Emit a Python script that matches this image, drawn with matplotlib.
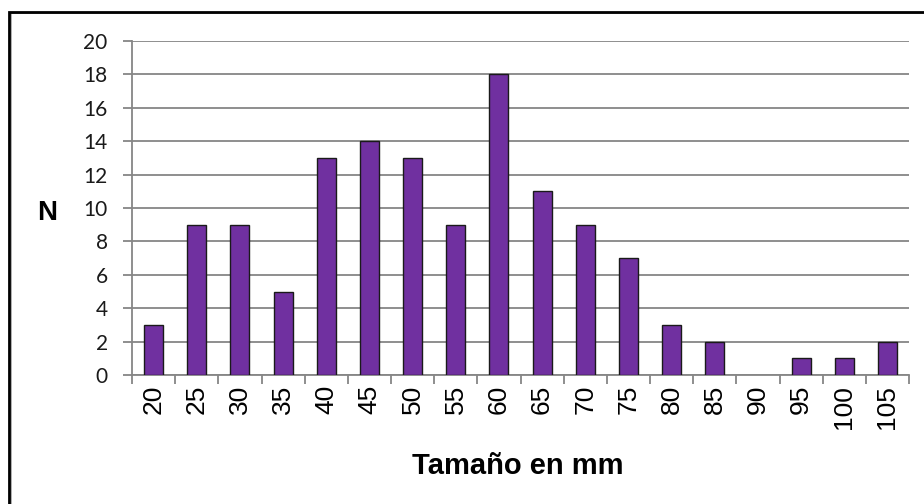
import matplotlib.pyplot as plt
from matplotlib.patches import Rectangle

sizes = ['20', '25', '30', '35', '40', '45', '50', '55', '60',
         '65', '70', '75', '80', '85', '90', '95', '100', '105']
counts = [3, 9, 9, 5, 13, 14, 13, 9, 18, 11, 9, 7, 3, 2, 0, 1, 1, 2]
y_ticks = [0, 2, 4, 6, 8, 10, 12, 14, 16, 18, 20]

grid_col = '#868686'

fig = plt.figure(figsize=(9.24, 5.04), dpi=100)
ax = fig.add_axes([132/924, 1 - 375/504, (909 - 132)/924, (375 - 41)/504])

pos = list(range(len(sizes)))
# no outline for empty classes (Excel draws nothing there)
edge_w = [1 if c > 0 else 0 for c in counts]
ax.bar(pos, counts, width=0.44, color='#7030A0', edgecolor='#1a1a1a', linewidth=edge_w, zorder=3)

ax.set_xlim(-0.5, len(sizes) - 0.5)
ax.set_ylim(0, 20)
ax.set_yticks(y_ticks)
ax.set_yticklabels([str(v) for v in y_ticks], fontfamily='Lato', fontsize=15)
ax.yaxis.grid(True, color=grid_col, linewidth=1.3, zorder=0)
ax.tick_params(axis='y', length=6.5, width=1.3, color=grid_col, pad=11, labelcolor='#1a1a1a')

# ticks between categories, labels at the centres
ax.set_xticks([p - 0.5 for p in pos] + [len(sizes) - 0.5])
ax.set_xticklabels([])
ax.set_xticks(pos, minor=True)
ax.set_xticklabels(sizes, minor=True, rotation=90, fontfamily='Liberation Sans', fontsize=19)
ax.tick_params(axis='x', which='major', length=6.5, width=1.3, color=grid_col)
ax.tick_params(axis='x', which='minor', length=0, pad=7)

for s in ['top', 'right']:
    ax.spines[s].set_visible(False)
for s in ['left', 'bottom']:
    ax.spines[s].set_color(grid_col)
    ax.spines[s].set_linewidth(1.3)

fig.text(47/924, 1 - 213/504, 'N', fontfamily='Liberation Sans', fontweight='bold',
         fontsize=20, ha='center', va='center')
fig.text(518/924, 1 - 466/504, 'Tamaño en mm', fontfamily='Liberation Sans', fontweight='bold',
         fontsize=21, ha='center', va='center')

# chart frame, cut off at right and bottom
fig.patches.append(Rectangle((10.5/924, -0.2), 1.2, 1.2 - 13.5/504, transform=fig.transFigure,
                             fill=False, edgecolor='#a0a0a0', linewidth=1.2))
fig.patches.append(Rectangle((9/924, -0.2), 1.2, 1.2 - 12/504, transform=fig.transFigure,
                             fill=False, edgecolor='black', linewidth=2))

plt.savefig('out.png', dpi=100)
plt.close()
